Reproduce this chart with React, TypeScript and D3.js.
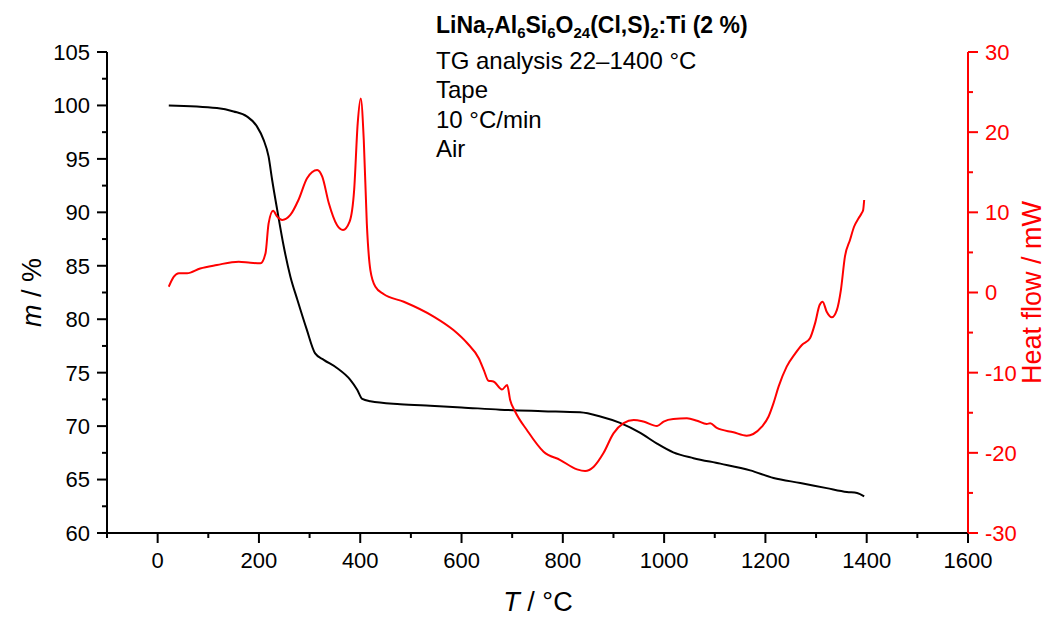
import React from "react";
import * as d3 from "d3";

// Thermogravimetric trace: temperature (°C) and remaining mass (%)
const tgTemp = [22, 117, 150, 176, 196, 209, 219, 226, 236, 249, 262, 276, 294, 311, 328, 354, 380, 394, 404, 420, 479, 538, 600, 676, 760, 834, 874, 913, 953, 986, 1018, 1058, 1111, 1170, 1216, 1269, 1321, 1361, 1381, 1395];
const tgMass = [100.0, 99.76, 99.44, 98.98, 98.04, 96.8, 95.23, 93.05, 90.25, 86.8, 84.0, 81.8, 79.1, 76.8, 76.2, 75.44, 74.35, 73.4, 72.54, 72.32, 72.05, 71.9, 71.75, 71.54, 71.4, 71.29, 70.9, 70.3, 69.36, 68.36, 67.54, 67.0, 66.49, 65.86, 65.15, 64.68, 64.2, 63.84, 63.75, 63.43];

// Heat-flow trace: temperature (°C) and heat flow (mW)
const dscTemp = [22, 32, 42, 58, 84, 117, 160, 183, 203, 213, 219, 228, 236, 246, 262, 278, 295, 315, 325, 338, 354, 366, 379, 388, 395, 401, 407, 413, 420, 430, 446, 486, 545, 584, 611, 634, 644, 653, 663, 680, 690, 696, 706, 729, 762, 795, 828, 844, 861, 880, 900, 920, 940, 959, 986, 999, 1018, 1045, 1065, 1084, 1091, 1104, 1137, 1163, 1176, 1193, 1206, 1216, 1226, 1242, 1259, 1272, 1288, 1298, 1307, 1313, 1321, 1331, 1341, 1349, 1357, 1367, 1375, 1384, 1390, 1393, 1395];
const dscHeat = [0.72, 1.97, 2.4, 2.4, 3.0, 3.43, 3.85, 3.7, 3.64, 4.9, 8.6, 10.2, 9.46, 9.05, 9.67, 11.54, 14.25, 15.28, 14.45, 11.13, 8.42, 7.8, 8.84, 12.8, 21.1, 24.2, 19.0, 8.6, 2.8, 0.72, -0.19, -1.15, -3.0, -4.68, -6.3, -8.2, -9.67, -11.0, -11.1, -12.1, -11.54, -13.4, -14.87, -17.15, -19.86, -20.9, -22.06, -22.27, -21.73, -20.06, -17.57, -16.3, -15.9, -16.1, -16.66, -16.1, -15.78, -15.7, -16.0, -16.4, -16.3, -16.9, -17.44, -17.86, -17.65, -16.74, -15.5, -13.8, -11.75, -9.25, -7.6, -6.55, -5.7, -3.85, -1.56, -1.15, -2.4, -3.1, -2.2, 0.3, 4.47, 6.55, 8.2, 9.26, 9.88, 10.3, 11.54];

const xMajorTicks = [0, 200, 400, 600, 800, 1000, 1200, 1400, 1600];
const xMinorTicks = [-100, 100, 300, 500, 700, 900, 1100, 1300, 1500];
const massMajorTicks = [60, 65, 70, 75, 80, 85, 90, 95, 100, 105];
const massMinorTicks = [62.5, 67.5, 72.5, 77.5, 82.5, 87.5, 92.5, 97.5, 102.5];
const heatMajorTicks = [-30, -20, -10, 0, 10, 20, 30];
const heatMinorTicks = [-25, -15, -5, 5, 15, 25];

// Sample formula: [text, isSubscript]
const formulaParts: [string, boolean][] = [
  ["LiNa", false], ["7", true], ["Al", false], ["6", true], ["Si", false], ["6", true],
  ["O", false], ["24", true], ["(Cl,S)", false], ["2", true], [":Ti (2 %)", false],
];
const infoLines = ["TG analysis 22–1400 °C", "Tape", "10 °C/min", "Air"];

const W = 1052;
const H = 618;
const left = 107;
const right = 968;
const top = 52;
const bottom = 533;
const FONT = "'Liberation Sans', Arial, Helvetica, sans-serif";
const RED = "#ff0000";
const SUB_SHIFT = 5;

export default function App() {
  const x = d3.scaleLinear().domain([-100, 1600]).range([left, right]);
  const yMass = d3.scaleLinear().domain([60, 105]).range([bottom, top]);
  const yHeat = d3.scaleLinear().domain([-30, 30]).range([bottom, top]);

  const tgLine = d3
    .line<number>()
    .x((_, i) => x(tgTemp[i]))
    .y((d) => yMass(d))
    .curve(d3.curveMonotoneX);
  const dscLine = d3
    .line<number>()
    .x((_, i) => x(dscTemp[i]))
    .y((d) => yHeat(d))
    .curve(d3.curveMonotoneX);

  return (
    <svg
      width={W}
      height={H}
      style={{ position: "absolute", left: 0, top: 0, background: "#fff" }}
      fontFamily={FONT}
    >
      <rect width={W} height={H} fill="#fff" />

      {/* curves */}
      <path d={tgLine(tgMass) ?? ""} fill="none" stroke="#000" strokeWidth={2} />
      <path d={dscLine(dscHeat) ?? ""} fill="none" stroke={RED} strokeWidth={2} />

      {/* bottom axis */}
      <line x1={left - 10} x2={right} y1={bottom} y2={bottom} stroke="#000" strokeWidth={2} />
      {xMajorTicks.map((t) => (
        <g key={"xm" + t}>
          <line x1={x(t)} x2={x(t)} y1={bottom} y2={bottom + 10} stroke="#000" strokeWidth={2} />
          <text x={x(t)} y={568} fontSize={22} textAnchor="middle" fill="#000">
            {t}
          </text>
        </g>
      ))}
      {xMinorTicks.map((t) => (
        <line key={"xn" + t} x1={x(t)} x2={x(t)} y1={bottom} y2={bottom + 5} stroke="#000" strokeWidth={2} />
      ))}
      <text x={538} y={611} fontSize={27} textAnchor="middle" fill="#000">
        <tspan fontStyle="italic">T</tspan> / °C
      </text>

      {/* left axis */}
      <line x1={left} x2={left} y1={top} y2={bottom + 5} stroke="#000" strokeWidth={2} />
      {massMajorTicks.map((t) => (
        <g key={"ym" + t}>
          <line x1={left - 10} x2={left} y1={yMass(t)} y2={yMass(t)} stroke="#000" strokeWidth={2} />
          <text x={90} y={yMass(t)} dy="0.36em" fontSize={22} textAnchor="end" fill="#000">
            {t}
          </text>
        </g>
      ))}
      {massMinorTicks.map((t) => (
        <line key={"yn" + t} x1={left - 5} x2={left} y1={yMass(t)} y2={yMass(t)} stroke="#000" strokeWidth={2} />
      ))}
      <text
        transform={`translate(41, ${yMass(82.5)}) rotate(-90)`}
        fontSize={27}
        textAnchor="middle"
        fill="#000"
      >
        <tspan fontStyle="italic">m</tspan> / %
      </text>

      {/* right axis */}
      <line x1={right} x2={right} y1={top} y2={bottom} stroke={RED} strokeWidth={2} />
      {heatMajorTicks.map((t) => (
        <g key={"hm" + t}>
          <line x1={right} x2={right + 10} y1={yHeat(t)} y2={yHeat(t)} stroke={RED} strokeWidth={2} />
          <text x={985} y={yHeat(t)} dy="0.36em" fontSize={22} textAnchor="start" fill={RED}>
            {t}
          </text>
        </g>
      ))}
      {heatMinorTicks.map((t) => (
        <line key={"hn" + t} x1={right} x2={right + 5} y1={yHeat(t)} y2={yHeat(t)} stroke={RED} strokeWidth={2} />
      ))}
      <text
        transform={`translate(1041, ${yHeat(0)}) rotate(-90)`}
        fontSize={27}
        textAnchor="middle"
        fill={RED}
      >
        Heat flow / mW
      </text>

      {/* annotation */}
      <text x={436} y={33} fontSize={23} fontWeight="bold" fill="#000">
        {formulaParts.map(([s, isSub], i) => {
          const prevSub = i > 0 && formulaParts[i - 1][1];
          const dy = isSub ? SUB_SHIFT : prevSub ? -SUB_SHIFT : 0;
          return (
            <tspan key={i} dy={dy} fontSize={isSub ? 15 : 23}>
              {s}
            </tspan>
          );
        })}
      </text>
      {infoLines.map((s, i) => (
        <text key={s} x={436} y={68.5 + i * 29.6} fontSize={24} fill="#000">
          {s}
        </text>
      ))}
    </svg>
  );
}
